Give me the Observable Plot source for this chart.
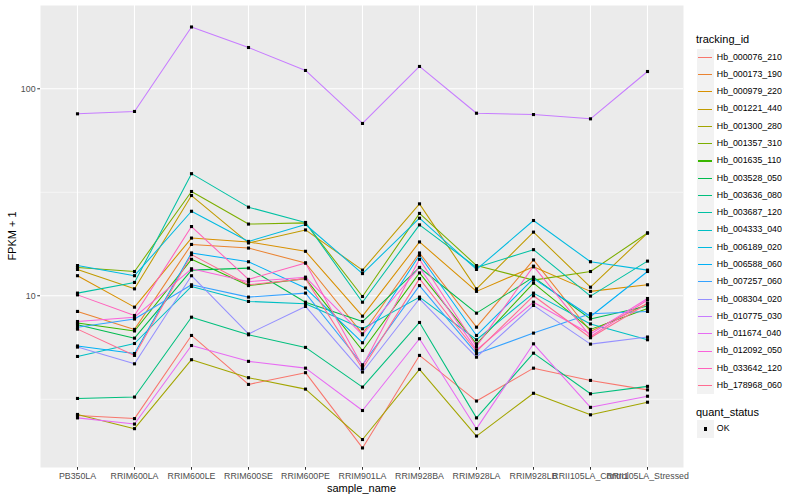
<!DOCTYPE html>
<html>
<head>
<meta charset="utf-8">
<script src="https://cdn.jsdelivr.net/npm/d3@7"></script>
<script src="https://cdn.jsdelivr.net/npm/@observablehq/plot@0.6"></script>
<style>
  html, body { margin: 0; padding: 0; background: #fff; }
  #wrap { position: relative; width: 800px; height: 500px; font-family: "Liberation Sans", Arial, Helvetica, sans-serif; }
  #wrap svg { position: absolute; left: 0; top: 0; }
  .lbl { position: absolute; white-space: nowrap; color: #000; }
  .leg-row { position: absolute; left: 696.5px; height: 17.3px; width: 100px; }
  .leg-key { position: absolute; left: 0; top: 0; width: 17.3px; height: 17.3px; background: #F2F2F2; }
  .leg-line { position: absolute; left: 1.5px; top: 8.1px; width: 14.3px; height: 1.1px; }
  .leg-txt { position: absolute; left: 20.3px; top: 0; line-height: 17.3px; font-size: 8.8px; color: #000; }
</style>
</head>
<body>
<div id="wrap"></div>
<script>
// ---- data ----
const samples = ["PB350LA","RRIM600LA","RRIM600LE","RRIM600SE","RRIM600PE","RRIM901LA","RRIM928BA","RRIM928LA","RRIM928LB","RRII105LA_Control","RRII105LA_Stressed"];

const trackingIds = ["Hb_000076_210","Hb_000173_190","Hb_000979_220","Hb_001221_440","Hb_001300_280","Hb_001357_310","Hb_001635_110","Hb_003528_050","Hb_003636_080","Hb_003687_120","Hb_004333_040","Hb_006189_020","Hb_006588_060","Hb_007257_060","Hb_008304_020","Hb_010775_030","Hb_011674_040","Hb_012092_050","Hb_033642_120","Hb_178968_060"];

const seriesColors = ["#F8766D","#EA8331","#D89000","#C09B00","#A3A500","#7CAE00","#39B600","#00BB4E","#00BF7D","#00C1A3","#00BFC4","#00BAE0","#00B0F6","#35A2FF","#9590FF","#C77CFF","#E76BF3","#FA62DB","#FF62BC","#FF6C91"];

// FPKM + 1 per sample (same order as samples)
const hb_000076_210 = [2.64, 2.55, 6.43, 3.73, 4.25, 1.84, 5.15, 3.10, 4.47, 3.90, 3.51];
const hb_000173_190 = [8.40, 6.88, 17.7, 17.0, 14.4, 6.55, 16.1, 7.05, 14.9, 6.72, 9.18];
const hb_000979_220 = [12.5, 8.81, 19.0, 18.2, 16.4, 7.97, 18.2, 10.5, 13.8, 10.5, 11.3];
const hb_001221_440 = [13.4, 10.8, 30.5, 18.0, 20.8, 13.3, 27.8, 10.8, 20.3, 11.0, 20.1];
const hb_001300_280 = [2.67, 2.28, 4.91, 4.02, 3.54, 2.02, 4.41, 2.10, 3.38, 2.66, 3.06];
const hb_001357_310 = [13.7, 13.1, 31.9, 22.2, 22.5, 9.92, 25.0, 14.0, 11.9, 13.1, 20.1];
const hb_001635_110 = [7.38, 6.76, 15.0, 11.2, 12.1, 5.44, 12.9, 5.86, 11.5, 6.88, 8.68];
const hb_003528_050 = [7.24, 6.24, 13.3, 13.6, 9.31, 7.51, 13.7, 8.24, 12.3, 7.72, 8.93];
const hb_003636_080 = [3.19, 3.24, 7.88, 6.48, 5.63, 3.62, 7.43, 2.57, 5.28, 3.36, 3.65];
const hb_003687_120 = [10.3, 11.6, 38.9, 26.8, 22.6, 9.31, 22.0, 13.7, 16.7, 9.96, 14.7];
const hb_004333_040 = [5.09, 5.88, 11.1, 9.39, 9.15, 6.93, 9.85, 6.13, 10.3, 7.31, 6.13];
const hb_006189_020 = [14.0, 12.5, 25.6, 18.3, 22.1, 12.8, 23.7, 13.4, 23.1, 14.6, 13.3];
const hb_006588_060 = [5.72, 5.26, 16.1, 14.6, 10.9, 5.93, 15.7, 6.43, 12.1, 7.94, 13.1];
const hb_007257_060 = [7.05, 7.72, 11.3, 9.85, 10.3, 4.64, 11.2, 5.25, 6.60, 8.19, 8.40];
const hb_008304_020 = [5.65, 4.69, 12.5, 6.54, 8.88, 4.28, 9.67, 5.05, 8.98, 5.84, 6.32];
const hb_010775_030 = [75.7, 77.7, 198.9, 158.3, 122.6, 68.0, 128.2, 76.2, 75.1, 71.6, 121.2];
const hb_011674_040 = [2.57, 2.40, 5.75, 4.82, 4.47, 2.79, 6.20, 2.28, 5.86, 2.89, 3.27];
const hb_012092_050 = [7.51, 7.88, 13.5, 11.7, 12.3, 6.48, 13.7, 5.48, 9.31, 6.54, 9.70];
const hb_033642_120 = [10.1, 8.03, 21.6, 12.0, 14.4, 4.56, 15.0, 5.69, 13.9, 6.36, 9.54];
const hb_178968_060 = [6.90, 5.15, 15.8, 11.3, 12.1, 4.44, 12.1, 5.38, 10.0, 6.27, 9.18];

const seriesValues = [hb_000076_210, hb_000173_190, hb_000979_220, hb_001221_440, hb_001300_280, hb_001357_310, hb_001635_110, hb_003528_050, hb_003636_080, hb_003687_120, hb_004333_040, hb_006189_020, hb_006588_060, hb_007257_060, hb_008304_020, hb_010775_030, hb_011674_040, hb_012092_050, hb_033642_120, hb_178968_060];

const yTicks = [10, 100];
const yMinorBreaks = [3.162, 31.62];
const yDomain = [1.48, 252.6];

// ---- table ----
const rows = [];
trackingIds.forEach((id, i) => {
  samples.forEach((s, j) => rows.push({tracking_id: id, sample_name: s, fpkm: seriesValues[i][j], quant_status: "OK"}));
});

const chart = Plot.plot({
  width: 800,
  height: 500,
  marginLeft: 40,
  marginRight: 117,
  marginTop: 5,
  marginBottom: 33,
  style: {fontFamily: "'Liberation Sans', Arial, Helvetica, sans-serif", fontSize: "8.8px", background: "transparent"},
  x: {type: "point", domain: samples, padding: 0.6, label: null},
  y: {type: "log", domain: yDomain, label: null},
  color: {domain: trackingIds, range: seriesColors, legend: false},
  marks: [
    Plot.frame({fill: "#EBEBEB", stroke: null}),
    Plot.ruleY(yMinorBreaks, {stroke: "#FFFFFF", strokeWidth: 0.55}),
    Plot.ruleY(yTicks, {stroke: "#FFFFFF", strokeWidth: 1.1}),
    Plot.ruleX(samples, {stroke: "#FFFFFF", strokeWidth: 1.1}),
    Plot.line(rows, {x: "sample_name", y: "fpkm", z: "tracking_id", stroke: "tracking_id", strokeWidth: 1.05}),
    Plot.dot(rows, {x: "sample_name", y: "fpkm", symbol: "square", r: 1.75, fill: "#000000", stroke: null}),
    Plot.axisY({ticks: yTicks, tickFormat: d => String(d), tickSize: 2.75, tickPadding: 2.2, fill: "#4D4D4D", stroke: "#333333", label: null}),
    Plot.axisX({tickSize: 2.75, tickPadding: 2.2, fill: "#4D4D4D", stroke: "#333333", label: null})
  ]
});

const wrap = document.getElementById("wrap");
wrap.appendChild(chart);

function addLabel(text, css) {
  const d = document.createElement("div");
  d.className = "lbl";
  d.textContent = text;
  Object.assign(d.style, css);
  wrap.appendChild(d);
  return d;
}

// axis titles
addLabel("sample_name", {left: "361.5px", top: "488px", fontSize: "11px", transform: "translate(-50%, -50%)"});
addLabel("FPKM + 1", {left: "12px", top: "236px", fontSize: "11px", transform: "translate(-50%, -50%) rotate(-90deg)"});

// legend: tracking_id
addLabel("tracking_id", {left: "696px", top: "38.5px", fontSize: "11px", transform: "translate(0, -50%)"});
const legTop = 57.3, legStep = 17.28;
trackingIds.forEach((id, i) => {
  const row = document.createElement("div");
  row.className = "leg-row";
  row.style.top = (legTop + i * legStep - 8.65) + "px";
  const key = document.createElement("div");
  key.className = "leg-key";
  const line = document.createElement("div");
  line.className = "leg-line";
  line.style.background = seriesColors[i];
  key.appendChild(line);
  const txt = document.createElement("div");
  txt.className = "leg-txt";
  txt.textContent = id;
  row.appendChild(key);
  row.appendChild(txt);
  wrap.appendChild(row);
});

// legend: quant_status
addLabel("quant_status", {left: "696px", top: "412.3px", fontSize: "11px", transform: "translate(0, -50%)"});
const qRow = document.createElement("div");
qRow.className = "leg-row";
qRow.style.top = (429 - 8.65) + "px";
const qKey = document.createElement("div");
qKey.className = "leg-key";
const sq = document.createElement("div");
Object.assign(sq.style, {position: "absolute", left: "7px", top: "7px", width: "3.3px", height: "3.3px", background: "#000"});
qKey.appendChild(sq);
const qTxt = document.createElement("div");
qTxt.className = "leg-txt";
qTxt.textContent = "OK";
qRow.appendChild(qKey);
qRow.appendChild(qTxt);
wrap.appendChild(qRow);
</script>
</body>
</html>
